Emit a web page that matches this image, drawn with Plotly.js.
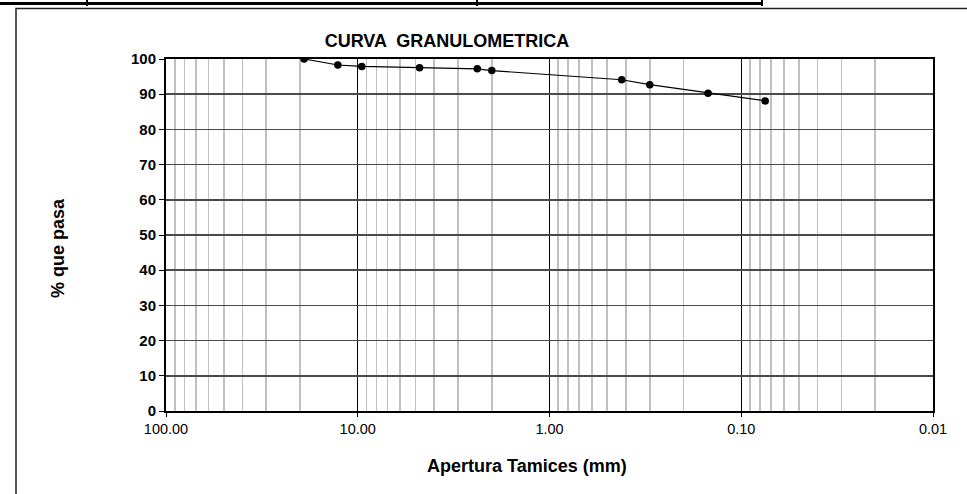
<!DOCTYPE html>
<html>
<head>
<meta charset="utf-8">
<script src="https://cdn.plot.ly/plotly-3.0.1.min.js"></script>
<style>
  html, body { margin: 0; padding: 0; background: #fff; }
  #chart { width: 967px; height: 494px; }
</style>
</head>
<body>
<div id="chart"></div>
<script>
// Sieve openings (mm) and percent passing
const aperturaMm = [19.05, 12.70, 9.525, 4.76, 2.38, 2.00, 0.42, 0.30, 0.149, 0.075];
const porcentajePasa = [100.0, 98.3, 97.9, 97.5, 97.2, 96.7, 94.1, 92.7, 90.3, 88.1];

const xTickVals = [100, 10, 1, 0.1, 0.01];
const xTickText = ['100.00', '10.00', '1.00', '0.10', '0.01'];
const decadeStarts = [0.01, 0.1, 1, 10];
const minorMultipliers = [2, 3, 4, 5, 6, 7, 8, 9];

const minorVals = [];
decadeStarts.forEach(d => minorMultipliers.forEach(m => minorVals.push(+(d * m).toPrecision(3))));

const FONT = '"Liberation Sans", Arial, sans-serif';

// px -> paper helpers for decorative frame (plot area: x 166..933, y 59..411)
const L = 166, R = 34, T = 59, B = 83, W = 967, H = 494;
const pw = W - L - R, ph = H - T - B;
const px = v => (v - L) / pw;
const py = v => (H - B - v) / ph;

const trace = {
  x: aperturaMm,
  y: porcentajePasa,
  type: 'scatter',
  mode: 'lines+markers',
  line: { color: '#000', width: 1.2 },
  marker: { color: '#000', size: 7.5 },
  hoverinfo: 'x+y',
  showlegend: false
};

const layout = {
  width: W,
  height: H,
  margin: { l: L, r: R, t: T, b: B },
  paper_bgcolor: '#fff',
  plot_bgcolor: '#fff',
  font: { family: FONT, color: '#000' },
  title: {
    text: '<b>CURVA  GRANULOMETRICA</b>',
    font: { family: FONT, size: 18, color: '#000' },
    xref: 'container', x: 447 / W, xanchor: 'center',
    yref: 'container', y: 1 - 41 / H, yanchor: 'middle'
  },
  xaxis: {
    type: 'log',
    range: [2, -2],
    tickvals: xTickVals,
    ticktext: xTickText,
    ticks: 'outside',
    ticklen: 4,
    tickcolor: '#000',
    tickwidth: 1,
    tickfont: { family: FONT, size: 14.5, color: '#000' },
    showgrid: true,
    gridcolor: '#000',
    gridwidth: 1,
    minor: { tickvals: minorVals, showgrid: true, gridcolor: '#c0c0c0', gridwidth: 1.6, ticks: '' },
    showline: true,
    linecolor: '#000',
    linewidth: 2,
    mirror: true,
    zeroline: false,
    fixedrange: true
  },
  yaxis: {
    range: [0, 100],
    dtick: 10,
    tick0: 0,
    ticks: 'outside',
    ticklen: 5,
    tickcolor: '#000',
    tickfont: { family: FONT, size: 15, color: '#000', weight: 'bold' },
    showgrid: true,
    gridcolor: '#4a4a4a',
    gridwidth: 1.5,
    showline: true,
    linecolor: '#000',
    linewidth: 2,
    mirror: true,
    zeroline: false,
    fixedrange: true
  },
  annotations: [
    {
      text: '<b>Apertura Tamices (mm)</b>',
      xref: 'paper', yref: 'paper',
      x: px(527), y: py(466),
      xanchor: 'center', yanchor: 'middle',
      showarrow: false,
      font: { family: FONT, size: 18, color: '#000' }
    },
    {
      text: '<b>% que pasa</b>',
      xref: 'paper', yref: 'paper',
      x: px(58), y: py(248),
      xanchor: 'center', yanchor: 'middle',
      textangle: -90,
      showarrow: false,
      font: { family: FONT, size: 18, color: '#000' }
    }
  ],
  shapes: [
    // outer chart frame
    { type: 'rect', xref: 'paper', yref: 'paper', x0: px(16), x1: px(1000), y0: py(520), y1: py(8.5),
      line: { color: '#222', width: 1.5 }, fillcolor: 'rgba(0,0,0,0)' },
    // top table line remnant
    { type: 'line', xref: 'paper', yref: 'paper', x0: px(-2), x1: px(762), y0: py(3.5), y1: py(3.5),
      line: { color: '#000', width: 3 } },
    { type: 'line', xref: 'paper', yref: 'paper', x0: px(87), x1: px(87), y0: py(0), y1: py(6),
      line: { color: '#000', width: 2 } },
    { type: 'line', xref: 'paper', yref: 'paper', x0: px(477), x1: px(477), y0: py(0), y1: py(6),
      line: { color: '#000', width: 2 } },
    { type: 'line', xref: 'paper', yref: 'paper', x0: px(762), x1: px(762), y0: py(0), y1: py(6),
      line: { color: '#000', width: 2 } }
  ]
};

Plotly.newPlot('chart', [trace], layout, { displayModeBar: false, staticPlot: true });
</script>
</body>
</html>
